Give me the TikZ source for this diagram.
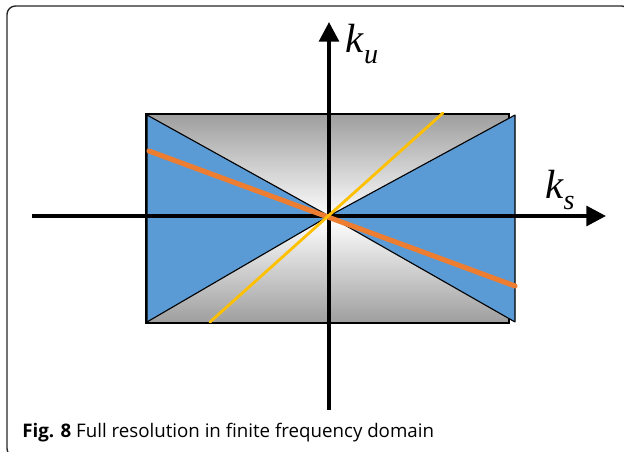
\documentclass[tikz,border=0pt]{standalone}
\usepackage{fontspec}
\newfontfamily\capfont{Open Sans}
\newfontfamily\lblfont{Liberation Serif}
\usetikzlibrary{arrows.meta}
\definecolor{domblue}{RGB}{91,155,213}
\definecolor{domorange}{RGB}{237,125,49}
\definecolor{domyellow}{RGB}{255,192,0}
\newcommand{\klabel}[1]{{\lblfont\itshape k\raisebox{-0.28em}{\fontsize{20}{21}\selectfont #1}}}

\begin{document}
\begin{tikzpicture}[
    x=0.025cm, y=-0.025cm,
    axis/.style={line width=2.8pt, -{Triangle[length=14pt, width=14pt]}},
    cone/.style={fill=domblue, draw=black, line width=0.8pt, line join=round},
    slope/.style={line cap=round},
    axislabel/.style={font=\fontsize{29}{31}\selectfont, inner sep=0pt},
    caption/.style={font=\capfont\fontsize{13.3}{15}\selectfont, anchor=base west, inner sep=0pt}
]
\useasboundingbox (0,0) rectangle (624,452);

% Outer frame
\draw[black!85, line width=1pt, rounded corners=6pt] (7,6) rectangle (630,457);

% Finite frequency domain
\coordinate (origin) at (329,216);
\shade[top color=black!38, bottom color=black!38, middle color=white] (146,114) rectangle (509,323);
\draw[line width=2pt] (146,114) rectangle (509,323);

% Resolved cones
\draw[cone] (147,115) -- (origin) -- (147,322) -- cycle;
\draw[cone] (515,115) -- (origin) -- (515,322) -- cycle;

% Axes
\draw[axis] (329,410) -- (329,22) coordinate (kutip);
\draw[axis] (32,216) -- (606,216) coordinate (kstip);
\node[axislabel] (ku) at (362,44) {\klabel{u}};
\node[axislabel] (ks) at (560,190) {\klabel{s}};

% Event slopes
\coordinate (ostart) at (149,151);
\coordinate (oend) at (515,286);
\coordinate (ystart) at (210,322);
\coordinate (yend) at (443,113);
\draw[slope, domorange, line width=3.6pt] (ostart) -- (oend);
\draw[slope, domyellow, line width=2pt] (ystart) -- (yend);

% Caption
\node[caption] (cap) at (22,437) {\textbf{Fig. 8} Full resolution in finite frequency domain};
\end{tikzpicture}
\end{document}
